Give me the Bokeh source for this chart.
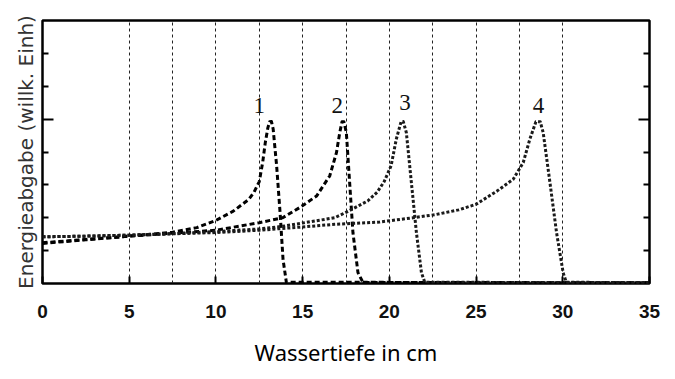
from bokeh.plotting import figure
from bokeh.models import Range1d, FixedTicker, LinearAxis, Grid
from bokeh.core.properties import value
from bokeh.embed import file_html
from bokeh.resources import INLINE

# ---- data (depth in cm, energy deposit in arbitrary units) ----
c1_x = [0, 2.5, 5, 7.5, 8.9, 10, 11, 11.9, 12.2, 12.5, 12.7, 12.85, 13.0, 13.1, 13.2, 13.3, 13.5, 13.7, 13.87, 14.06, 35]
c1_y = [1.22, 1.33, 1.44, 1.56, 1.70, 1.92, 2.2, 2.56, 2.78, 3.1, 3.7, 4.3, 4.75, 4.92, 4.93, 4.7, 3.58, 2.15, 0.73, 0.04, 0.02]

c2_x = [0, 2.5, 5, 7.5, 10, 12.5, 13.85, 14.83, 15.8, 16.56, 16.95, 17.14, 17.27, 17.38, 17.52, 17.71, 17.9, 18.19, 18.48, 35]
c2_y = [1.24, 1.34, 1.44, 1.53, 1.62, 1.85, 2.0, 2.31, 2.66, 3.27, 3.98, 4.59, 4.92, 4.92, 4.59, 3.07, 1.55, 0.33, 0.03, 0.02]

c3_x = [0, 2.5, 5, 7.5, 10, 12.5, 13.85, 15, 16.85, 17.71, 18.75, 19.3, 19.7, 20.1, 20.4, 20.68, 20.8, 20.98, 21.27, 21.56, 21.85, 22.04, 35]
c3_y = [1.42, 1.44, 1.47, 1.52, 1.58, 1.66, 1.74, 1.84, 2.0, 2.22, 2.51, 2.78, 3.1, 3.58, 4.39, 4.93, 4.93, 4.59, 3.07, 1.55, 0.33, 0.04, 0.02]

c4_x = [0, 2.5, 5, 7.5, 10, 12.5, 15, 16.85, 19.45, 21.37, 22.7, 24.0, 25.0, 26.2, 27.14, 27.72, 28.1, 28.45, 28.7, 28.87, 29.26, 29.64, 30.02, 30.2, 35]
c4_y = [1.42, 1.44, 1.47, 1.51, 1.55, 1.62, 1.72, 1.8, 1.87, 2.0, 2.1, 2.24, 2.41, 2.81, 3.17, 3.68, 4.39, 4.92, 4.92, 4.59, 3.07, 1.55, 0.33, 0.04, 0.02]

curve_names = ["1", "2", "3", "4"]
name_x = [12.5, 17.0, 20.9, 28.6]
name_y = [5.4, 5.4, 5.5, 5.4]

x_ticks = [0, 5, 10, 15, 20, 25, 30, 35]
grid_x = [5, 7.5, 10, 12.5, 15, 17.5, 20, 22.5, 25, 27.5, 30]
y_major = [5]
y_minor = [1, 2, 3, 4, 6, 7]

x_title = "Wassertiefe in cm"
y_title = "Energieabgabe (willk. Einh)"

p = figure(frame_width=607, frame_height=263,
           min_border_left=42, min_border_right=17, min_border_top=20, min_border_bottom=80,
           x_range=Range1d(0, 35), y_range=Range1d(0, 8),
           x_axis_type=None, y_axis_type=None,
           output_backend="svg", toolbar_location=None)
p.background_fill_color = "white"
p.border_fill_color = "white"
p.outline_line_color = "black"
p.outline_line_width = 2.5

p.add_layout(Grid(dimension=0, ticker=FixedTicker(ticks=grid_x),
                  grid_line_color="#222222", grid_line_width=1, grid_line_dash="3 3"))

xa = LinearAxis(ticker=FixedTicker(ticks=x_ticks), axis_line_color=None,
                major_tick_in=7, major_tick_out=0, major_tick_line_width=2,
                minor_tick_line_color=None,
                major_label_text_font="Liberation Sans",
                major_label_text_font_style="bold",
                major_label_text_font_size="19px",
                major_label_text_color="#111111",
                major_label_standoff=21,
                axis_label=x_title,
                axis_label_text_font="Noto Sans",
                axis_label_text_font_style="normal",
                axis_label_text_font_size="22px",
                axis_label_text_color="black",
                axis_label_standoff=16)
p.add_layout(xa, "below")

ya = LinearAxis(ticker=FixedTicker(ticks=y_major, minor_ticks=y_minor), axis_line_color=None,
                major_tick_in=11, major_tick_out=0, major_tick_line_width=2,
                minor_tick_in=6, minor_tick_out=0, minor_tick_line_width=2,
                major_label_text_font_size="1px", major_label_text_alpha=0,
                major_label_standoff=0,
                axis_label=y_title,
                axis_label_text_font="DejaVu Sans",
                axis_label_text_font_style="normal",
                axis_label_text_font_size="20px",
                axis_label_text_color="#333333",
                axis_label_standoff=5)
p.add_layout(ya, "left")

ya2 = LinearAxis(ticker=FixedTicker(ticks=y_major, minor_ticks=y_minor), axis_line_color=None,
                 major_tick_in=11, major_tick_out=0, major_tick_line_width=2,
                 minor_tick_in=6, minor_tick_out=0, minor_tick_line_width=2,
                 major_label_text_font_size="1px", major_label_text_alpha=0,
                 major_label_standoff=0)
p.add_layout(ya2, "right")

p.line(c1_x, c1_y, line_color="black", line_width=3, line_dash="5 3", line_join="round")
p.line(c2_x, c2_y, line_color="black", line_width=3, line_dash="5 3", line_join="round")
p.line(c3_x, c3_y, line_color="#1a1a1a", line_width=3, line_dash="3 2", line_join="round")
p.line(c4_x, c4_y, line_color="#1a1a1a", line_width=3, line_dash="3 2", line_join="round")

p.text(x=name_x, y=name_y, text=curve_names, text_font=value("Liberation Serif"),
       text_font_size="23px", text_align="center", text_baseline="middle", text_color="#111111")

open("out.html", "w").write(file_html(p, INLINE))
